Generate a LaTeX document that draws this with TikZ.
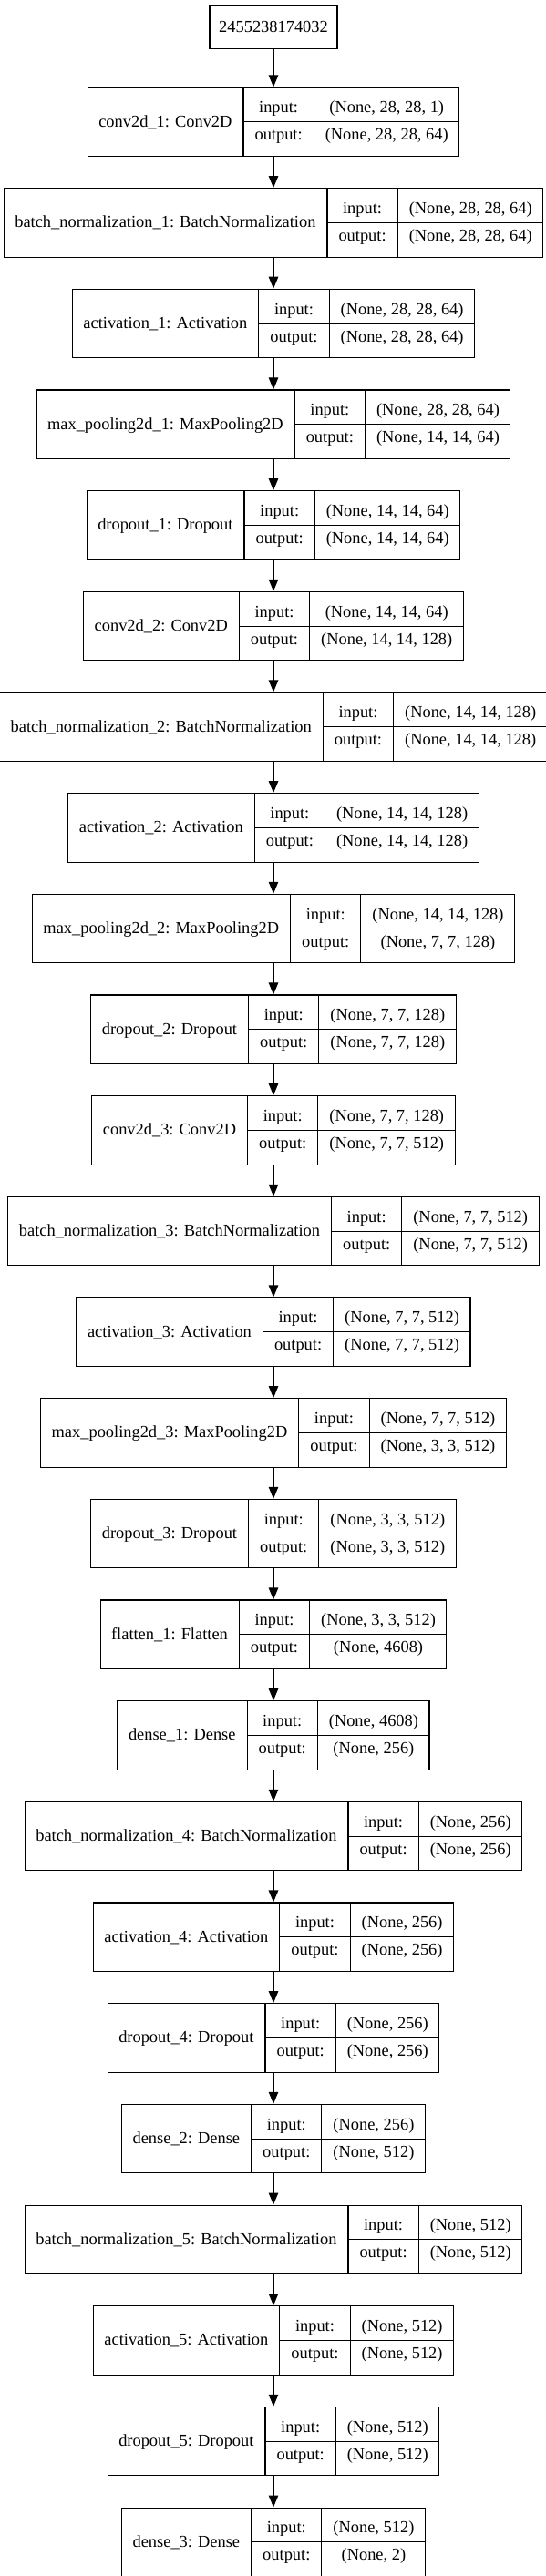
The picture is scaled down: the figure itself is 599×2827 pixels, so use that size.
\documentclass[tikz,border=0pt]{standalone}
\usepackage{fontspec}
\setmainfont{Liberation Serif}
\usetikzlibrary{shapes,arrows.meta}
\tikzstyle{layer} = [rectangle split, rectangle split horizontal, rectangle split parts=3,
    rectangle split part align={center}, draw, line width=1.1pt, inner xsep=12pt, inner ysep=0pt,
    append after command={\pgfextra{\draw[line width=1.1pt] (\tikzlastnode.one split) -- (\tikzlastnode.east);}}]
\tikzstyle{inputbox} = [rectangle, draw, line width=1.1pt, minimum width=140pt, minimum height=47.5pt]
\tikzstyle{line} = [draw, line width=1.1pt, -{Triangle[length=13pt, width=10.5pt]}]
\newcommand{\namecell}[1]{\rule[-25pt]{0pt}{61pt}#1}
\newcommand{\iorows}[2]{\vbox{\offinterlineskip\halign{\hfil##\hfil\cr
    \rule[-10pt]{0pt}{30.5pt}#1\cr\rule[-10.5pt]{0pt}{30.5pt}#2\cr}}}
\newcommand{\inout}{\iorows{input:}{output:}}
\begin{document}
\begin{tikzpicture}[x=1pt, y=1pt, node distance=110.67pt, font=\fontsize{18.4}{22}\selectfont]
  \useasboundingbox (0,0) rectangle (599,-2827);
   % Place nodes
    \node [inputbox] (input) at (300,-29.75) {2455238174032};
    \node [layer, below of=input, node distance=103.95pt] (conv1) {\namecell{conv2d\_1: Conv2D} \nodepart{two} \inout \nodepart{three} \iorows{(None, 28, 28, 1)}{(None, 28, 28, 64)}};
    \node [layer, below of=conv1] (bn1) {\namecell{batch\_normalization\_1: BatchNormalization} \nodepart{two} \inout \nodepart{three} \iorows{(None, 28, 28, 64)}{(None, 28, 28, 64)}};
    \node [layer, below of=bn1] (act1) {\namecell{activation\_1: Activation} \nodepart{two} \inout \nodepart{three} \iorows{(None, 28, 28, 64)}{(None, 28, 28, 64)}};
    \node [layer, below of=act1] (pool1) {\namecell{max\_pooling2d\_1: MaxPooling2D} \nodepart{two} \inout \nodepart{three} \iorows{(None, 28, 28, 64)}{(None, 14, 14, 64)}};
    \node [layer, below of=pool1] (drop1) {\namecell{dropout\_1: Dropout} \nodepart{two} \inout \nodepart{three} \iorows{(None, 14, 14, 64)}{(None, 14, 14, 64)}};
    \node [layer, below of=drop1] (conv2) {\namecell{conv2d\_2: Conv2D} \nodepart{two} \inout \nodepart{three} \iorows{(None, 14, 14, 64)}{(None, 14, 14, 128)}};
    \node [layer, below of=conv2] (bn2) {\namecell{batch\_normalization\_2: BatchNormalization} \nodepart{two} \inout \nodepart{three} \iorows{(None, 14, 14, 128)}{(None, 14, 14, 128)}};
    \node [layer, below of=bn2] (act2) {\namecell{activation\_2: Activation} \nodepart{two} \inout \nodepart{three} \iorows{(None, 14, 14, 128)}{(None, 14, 14, 128)}};
    \node [layer, below of=act2] (pool2) {\namecell{max\_pooling2d\_2: MaxPooling2D} \nodepart{two} \inout \nodepart{three} \iorows{(None, 14, 14, 128)}{(None, 7, 7, 128)}};
    \node [layer, below of=pool2] (drop2) {\namecell{dropout\_2: Dropout} \nodepart{two} \inout \nodepart{three} \iorows{(None, 7, 7, 128)}{(None, 7, 7, 128)}};
    \node [layer, below of=drop2] (conv3) {\namecell{conv2d\_3: Conv2D} \nodepart{two} \inout \nodepart{three} \iorows{(None, 7, 7, 128)}{(None, 7, 7, 512)}};
    \node [layer, below of=conv3] (bn3) {\namecell{batch\_normalization\_3: BatchNormalization} \nodepart{two} \inout \nodepart{three} \iorows{(None, 7, 7, 512)}{(None, 7, 7, 512)}};
    \node [layer, below of=bn3] (act3) {\namecell{activation\_3: Activation} \nodepart{two} \inout \nodepart{three} \iorows{(None, 7, 7, 512)}{(None, 7, 7, 512)}};
    \node [layer, below of=act3] (pool3) {\namecell{max\_pooling2d\_3: MaxPooling2D} \nodepart{two} \inout \nodepart{three} \iorows{(None, 7, 7, 512)}{(None, 3, 3, 512)}};
    \node [layer, below of=pool3] (drop3) {\namecell{dropout\_3: Dropout} \nodepart{two} \inout \nodepart{three} \iorows{(None, 3, 3, 512)}{(None, 3, 3, 512)}};
    \node [layer, below of=drop3] (flat1) {\namecell{flatten\_1: Flatten} \nodepart{two} \inout \nodepart{three} \iorows{(None, 3, 3, 512)}{(None, 4608)}};
    \node [layer, below of=flat1] (dense1) {\namecell{dense\_1: Dense} \nodepart{two} \inout \nodepart{three} \iorows{(None, 4608)}{(None, 256)}};
    \node [layer, below of=dense1] (bn4) {\namecell{batch\_normalization\_4: BatchNormalization} \nodepart{two} \inout \nodepart{three} \iorows{(None, 256)}{(None, 256)}};
    \node [layer, below of=bn4] (act4) {\namecell{activation\_4: Activation} \nodepart{two} \inout \nodepart{three} \iorows{(None, 256)}{(None, 256)}};
    \node [layer, below of=act4] (drop4) {\namecell{dropout\_4: Dropout} \nodepart{two} \inout \nodepart{three} \iorows{(None, 256)}{(None, 256)}};
    \node [layer, below of=drop4] (dense2) {\namecell{dense\_2: Dense} \nodepart{two} \inout \nodepart{three} \iorows{(None, 256)}{(None, 512)}};
    \node [layer, below of=dense2] (bn5) {\namecell{batch\_normalization\_5: BatchNormalization} \nodepart{two} \inout \nodepart{three} \iorows{(None, 512)}{(None, 512)}};
    \node [layer, below of=bn5] (act5) {\namecell{activation\_5: Activation} \nodepart{two} \inout \nodepart{three} \iorows{(None, 512)}{(None, 512)}};
    \node [layer, below of=act5] (drop5) {\namecell{dropout\_5: Dropout} \nodepart{two} \inout \nodepart{three} \iorows{(None, 512)}{(None, 512)}};
    \node [layer, below of=drop5] (dense3) {\namecell{dense\_3: Dense} \nodepart{two} \inout \nodepart{three} \iorows{(None, 512)}{(None, 2)}};
   % Draw edges
    \path [line] (input) -- (conv1);
    \path [line] (conv1) -- (bn1);
    \path [line] (bn1) -- (act1);
    \path [line] (act1) -- (pool1);
    \path [line] (pool1) -- (drop1);
    \path [line] (drop1) -- (conv2);
    \path [line] (conv2) -- (bn2);
    \path [line] (bn2) -- (act2);
    \path [line] (act2) -- (pool2);
    \path [line] (pool2) -- (drop2);
    \path [line] (drop2) -- (conv3);
    \path [line] (conv3) -- (bn3);
    \path [line] (bn3) -- (act3);
    \path [line] (act3) -- (pool3);
    \path [line] (pool3) -- (drop3);
    \path [line] (drop3) -- (flat1);
    \path [line] (flat1) -- (dense1);
    \path [line] (dense1) -- (bn4);
    \path [line] (bn4) -- (act4);
    \path [line] (act4) -- (drop4);
    \path [line] (drop4) -- (dense2);
    \path [line] (dense2) -- (bn5);
    \path [line] (bn5) -- (act5);
    \path [line] (act5) -- (drop5);
    \path [line] (drop5) -- (dense3);
  \end{tikzpicture}
\end{document}
